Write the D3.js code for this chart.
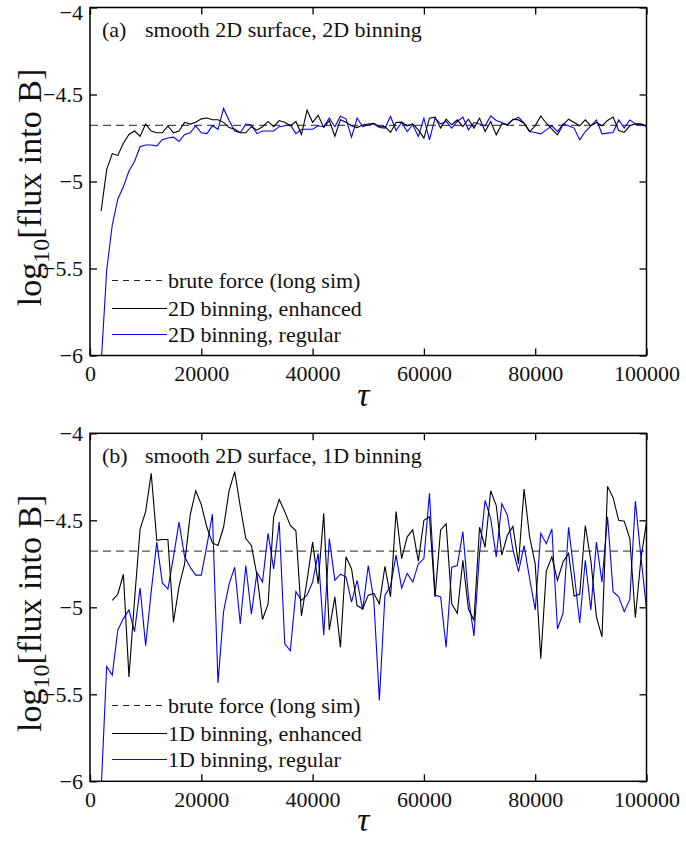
<!DOCTYPE html>
<html>
<head>
<meta charset="utf-8">
<script src="https://cdn.jsdelivr.net/npm/d3@7"></script>
<style>
  body { margin: 0; background: #fff; }
  svg text { font-family: "Liberation Serif", "Times New Roman", serif; }
</style>
</head>
<body>
<div id="chart"></div>
<script>
// sampling of tau (every 1000 steps), first sample differs per series
const tauStep = 1000;
const tauEnd = 100000;
const bruteForce = -4.677;

const xTicks = [0, 20000, 40000, 60000, 80000, 100000];
const xTickLabels = ["0", "20000", "40000", "60000", "80000", "100000"];
const yTicks = [-4, -4.5, -5, -5.5, -6];
const yTickLabels = ["\u22124", "\u22124.5", "\u22125", "\u22125.5", "\u22126"];

// (a) 2D binning, enhanced: tau = 2000 .. 100000
const enhancedAStart = 2000;
const enhancedA = [
  -5.17, -4.93, -4.84, -4.85, -4.78, -4.73, -4.71, -4.74, -4.67, -4.71,
  -4.72, -4.72, -4.68, -4.72, -4.71, -4.66, -4.67, -4.66, -4.64, -4.635,
  -4.645, -4.645, -4.66, -4.69, -4.70, -4.72, -4.72, -4.685, -4.705, -4.685,
  -4.655, -4.685, -4.65, -4.66, -4.68, -4.655, -4.73, -4.59, -4.66, -4.62,
  -4.69, -4.65, -4.74, -4.645, -4.66, -4.68, -4.69, -4.675, -4.67, -4.665,
  -4.685,
  -4.684, -4.718, -4.661, -4.659, -4.680, -4.669, -4.703, -4.751, -4.636, -4.630,
  -4.693, -4.642, -4.674, -4.646, -4.684, -4.642, -4.693, -4.636, -4.713, -4.655,
  -4.732, -4.669, -4.674, -4.642, -4.646, -4.665, -4.713, -4.680, -4.623, -4.665,
  -4.699, -4.732, -4.674, -4.642, -4.661, -4.680, -4.646, -4.680, -4.661, -4.680,
  -4.649, -4.630, -4.707, -4.718, -4.680, -4.669, -4.669, -4.680
];

// (a) 2D binning, regular: tau = 2000 .. 100000
const regularAStart = 2000;
const regularA = [
  -6.05, -5.51, -5.25, -5.10, -5.03, -4.94, -4.885, -4.80, -4.79, -4.79,
  -4.795, -4.76, -4.75, -4.745, -4.77, -4.73, -4.72, -4.68, -4.72, -4.725,
  -4.68, -4.70, -4.58, -4.65, -4.71, -4.72, -4.67, -4.675, -4.725, -4.71,
  -4.71, -4.71, -4.685, -4.68, -4.675, -4.725, -4.70, -4.70, -4.70, -4.68,
  -4.685, -4.635, -4.685, -4.625, -4.64, -4.745, -4.635, -4.685, -4.675, -4.67,
  -4.69,
  -4.693, -4.626, -4.707, -4.661, -4.713, -4.674, -4.741, -4.636, -4.761, -4.636,
  -4.669, -4.655, -4.693, -4.655, -4.630, -4.703, -4.661, -4.669, -4.680, -4.623,
  -4.649, -4.661, -4.674, -4.646, -4.630, -4.665, -4.713, -4.718, -4.726, -4.703,
  -4.680, -4.713, -4.669, -4.680, -4.693, -4.761, -4.713, -4.680, -4.646, -4.726,
  -4.722, -4.718, -4.646, -4.693, -4.646, -4.669, -4.674, -4.684
];

// (b) 1D binning, enhanced: tau = 4000 .. 100000
const enhancedBStart = 4000;
const enhancedB = [
  -4.96, -4.925, -4.81, -5.40, -4.96, -4.55, -4.45, -4.23, -4.615, -4.61,
  -4.61, -5.085, -4.88, -4.75, -4.47, -4.33, -4.41, -4.54, -4.63, -4.645,
  -4.54, -4.33, -4.22, -4.42, -4.605, -4.645, -4.815, -5.07, -4.98, -4.48,
  -4.38, -4.45, -4.53, -4.56, -5.05, -4.845, -4.625, -4.865, -4.46, -5.13,
  -4.94, -5.23, -4.71, -4.78, -4.99, -5.01, -4.93, -4.92, -4.98, -4.765,
  -4.94, -4.45, -4.72, -4.595, -4.555, -4.735, -4.5, -4.48, -4.94, -4.555,
  -4.52, -4.98, -5.035, -4.73, -5.01, -5.075, -4.54, -4.655, -4.33, -4.415,
  -4.70, -4.585, -4.535, -4.75, -4.32, -4.595, -4.75, -5.295, -4.79, -4.71,
  -4.845, -4.74, -4.69, -4.935, -4.925, -4.53, -4.73, -5.055, -5.17, -4.305,
  -4.37, -4.5, -4.505, -4.605, -5.06, -4.72, -4.51
];

// (b) 1D binning, regular: tau = 2000 .. 100000
const regularBStart = 2000;
const regularB = [
  -6.05, -5.34, -5.39, -5.13, -5.065, -5.015, -5.14, -4.89, -5.22, -4.91,
  -4.625, -4.86, -4.895, -4.71, -4.51, -4.71, -4.77, -4.815, -4.815, -4.645,
  -4.465, -5.435, -5.025, -4.865, -4.77, -5.095, -4.76, -5.04, -4.80, -4.855,
  -4.575, -4.78, -4.51, -5.21, -5.25, -4.91, -4.96, -4.93, -4.855, -4.69,
  -5.16, -4.605, -4.845, -4.81, -4.825, -4.97, -4.845, -5.015, -4.76, -4.96,
  -5.535, -4.93, -4.88, -4.70, -4.89, -4.805, -4.855, -4.75, -4.72, -4.345,
  -4.93, -4.94, -5.23, -4.77, -4.76, -4.565, -4.94, -5.165, -4.69, -4.385,
  -4.49, -4.71, -4.405, -4.47, -4.67, -4.795, -4.645, -4.835, -5.015, -4.575,
  -4.635, -4.55, -5.125, -5.035, -4.54, -4.805, -5.09, -4.73, -5.015, -4.625,
  -4.855, -4.48, -4.91, -4.94, -5.025, -4.955, -4.39, -4.71, -5.01
];

const W = 686, H = 842;
const left = 90, right = 646.5, plotH = 348;
const blue = '#0000ff';

const svg = d3.select('#chart').append('svg')
    .attr('width', W).attr('height', H);

const toPoints = (start, vals) => vals.map((v, i) => ({ tau: start + i * tauStep, v }));

function drawPanel(id, top, tag, title, enhanced, regular, legendNames) {
  const x = d3.scaleLinear().domain([0, tauEnd]).range([left, right]);
  const y = d3.scaleLinear().domain([-6, -4]).range([top + plotH, top]);
  const g = svg.append('g');

  g.append('clipPath').attr('id', 'clip-' + id)
    .append('rect')
      .attr('x', left).attr('y', top)
      .attr('width', right - left).attr('height', plotH);

  // axes, ticks pointing inward on all four sides
  const xb = g.append('g')
      .attr('transform', `translate(0,${top + plotH})`)
      .call(d3.axisBottom(x).tickValues(xTicks).tickSize(-7).tickPadding(10)
        .tickFormat((d, i) => xTickLabels[i]));
  const yl = g.append('g')
      .attr('transform', `translate(${left},0)`)
      .call(d3.axisLeft(y).tickValues(yTicks).tickSize(-7).tickPadding(7)
        .tickFormat((d, i) => yTickLabels[i]));
  g.append('g')
      .attr('transform', `translate(0,${top})`)
      .call(d3.axisTop(x).tickValues(xTicks).tickSize(-7).tickFormat(''));
  g.append('g')
      .attr('transform', `translate(${right},0)`)
      .call(d3.axisRight(y).tickValues(yTicks).tickSize(-7).tickFormat(''));

  g.selectAll('.domain').remove();
  g.selectAll('.tick line').attr('stroke', '#000').attr('stroke-width', 1.3);
  [xb, yl].forEach(a => a.selectAll('text')
    .attr('font-family', '"Liberation Serif", "Times New Roman", serif')
    .attr('font-size', 22).attr('fill', '#111'));
  // keep the top label inside the page
  yl.selectAll('text').filter(d => d === -4 && top < 20).attr('dy', '0.55em');

  // data
  const line = d3.line().x(d => x(d.tau)).y(d => y(d.v));
  const data = g.append('g').attr('clip-path', `url(#clip-${id})`);

  data.append('line')
      .attr('x1', left).attr('x2', right)
      .attr('y1', y(bruteForce)).attr('y2', y(bruteForce))
      .attr('stroke', '#222').attr('stroke-width', 1)
      .attr('stroke-dasharray', '8,5');

  data.append('path')
      .datum(regular)
      .attr('d', line)
      .attr('fill', 'none').attr('stroke', blue).attr('stroke-width', 1.1);

  data.append('path')
      .datum(enhanced)
      .attr('d', line)
      .attr('fill', 'none').attr('stroke', '#000').attr('stroke-width', 1.1);

  // frame
  g.append('rect')
      .attr('x', left).attr('y', top)
      .attr('width', right - left).attr('height', plotH)
      .attr('fill', 'none').attr('stroke', '#000').attr('stroke-width', 1.5);

  // panel title
  g.append('text').attr('x', 102).attr('y', top + 29.5)
      .attr('font-size', 22).attr('fill', '#111').text(tag);
  g.append('text').attr('x', 145).attr('y', top + 29.5)
      .attr('font-size', 22).attr('fill', '#111').text(title);

  // legend
  const legend = [
    { name: legendNames[0], color: '#222', dash: '6,5', dy: -76 },
    { name: legendNames[1], color: '#000', dash: 'none', dy: -48 },
    { name: legendNames[2], color: blue, dash: 'none', dy: -22 }
  ];
  const lg = g.append('g').selectAll('g').data(legend).enter().append('g')
      .attr('transform', d => `translate(0,${Math.round(top + plotH + d.dy) + 0.5})`);
  lg.append('line')
      .attr('x1', 112).attr('x2', 167)
      .style('stroke', d => d.color).style('stroke-width', 1.1)
      .style('stroke-dasharray', d => d.dash);
  lg.append('text')
      .attr('x', 168).attr('y', 7)
      .attr('font-size', 22).attr('fill', '#111')
      .text(d => d.name);

  // axis titles
  const yt = g.append('text')
      .attr('transform', `translate(41,${top + plotH / 2 + 6}) rotate(-90)`)
      .attr('text-anchor', 'middle')
      .attr('font-size', 34).attr('fill', '#111');
  yt.append('tspan').text('log');
  yt.append('tspan').attr('font-size', 24).attr('dy', 8).text('10');
  yt.append('tspan').attr('dy', -8).text('[flux into B]');

  g.append('text')
      .attr('x', (left + right) / 2 - 5).attr('y', top + plotH + 50)
      .attr('text-anchor', 'middle')
      .attr('font-size', 34).attr('font-style', 'italic').attr('fill', '#111')
      .text('\u03c4');
}

drawPanel('a', 7.5, '(a)', 'smooth 2D surface, 2D binning',
  toPoints(enhancedAStart, enhancedA), toPoints(regularAStart, regularA),
  ['brute force (long sim)', '2D binning, enhanced', '2D binning, regular']);

drawPanel('b', 433.3, '(b)', 'smooth 2D surface, 1D binning',
  toPoints(enhancedBStart, enhancedB), toPoints(regularBStart, regularB),
  ['brute force (long sim)', '1D binning, enhanced', '1D binning, regular']);
</script>
</body>
</html>
